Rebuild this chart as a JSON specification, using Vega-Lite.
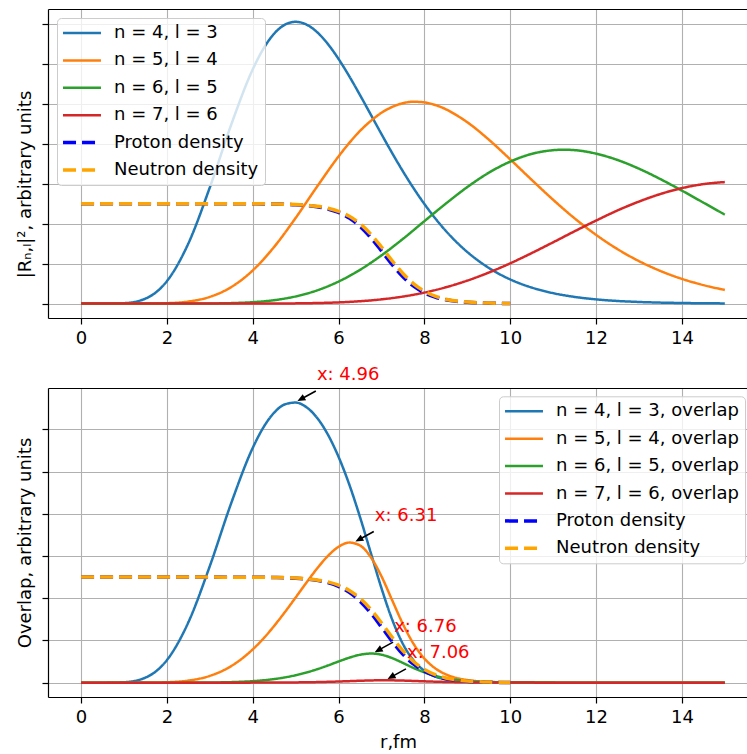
{
  "$schema": "https://vega.github.io/schema/vega-lite/v6.json",
  "background": "white",
  "padding": {"left": 16, "top": 9, "right": 0, "bottom": 0},
  "spacing": 19,
  "resolve": {
    "scale": {"color": "independent", "strokeDash": "independent", "strokeWidth": "independent", "y": "independent"},
    "legend": {"color": "independent", "strokeDash": "independent", "strokeWidth": "independent"}
  },
  "config": {
    "font": "DejaVu Sans",
    "view": {"stroke": null},
    "axis": {
      "labelFont": "DejaVu Sans", "labelFontSize": 18, "labelColor": "#000000",
      "titleFont": "DejaVu Sans", "titleFontSize": 18, "titleFontWeight": "normal", "titleColor": "#000000",
      "domainColor": "#000000", "domainWidth": 1.2, "tickColor": "#000000", "tickWidth": 1.2, "tickSize": 6,
      "labelPadding": 5, "titlePadding": 7, "gridColor": "#b0b0b0", "gridWidth": 1.1, "gridOpacity": 1,
      "labelFlush": false, "labelOverlap": false
    }
  },
  "datasets": {
    "top": [
      {"r":0,"n = 4, l = 3":0,"n = 5, l = 4":0,"n = 6, l = 5":0,"n = 7, l = 6":0,"Proton density":2.5,"Neutron density":2.5},
      {"r":0.5,"n = 4, l = 3":0.0001,"n = 5, l = 4":0,"n = 6, l = 5":0,"n = 7, l = 6":0,"Proton density":2.5,"Neutron density":2.5},
      {"r":1,"n = 4, l = 3":0.011,"n = 5, l = 4":0.00004,"n = 6, l = 5":0,"n = 7, l = 6":0,"Proton density":2.5,"Neutron density":2.5},
      {"r":1.5,"n = 4, l = 3":0.125,"n = 5, l = 4":0.0011,"n = 6, l = 5":0,"n = 7, l = 6":0,"Proton density":2.5,"Neutron density":2.5},
      {"r":2,"n = 4, l = 3":0.561,"n = 5, l = 4":0.0105,"n = 6, l = 5":0.0001,"n = 7, l = 6":0,"Proton density":2.5,"Neutron density":2.5},
      {"r":2.5,"n = 4, l = 3":1.504,"n = 5, l = 4":0.0516,"n = 6, l = 5":0.0006,"n = 7, l = 6":0,"Proton density":2.5,"Neutron density":2.5},
      {"r":3,"n = 4, l = 3":2.905,"n = 5, l = 4":0.168,"n = 6, l = 5":0.0033,"n = 7, l = 6":0.00003,"Proton density":2.5,"Neutron density":2.5},
      {"r":3.5,"n = 4, l = 3":4.48,"n = 5, l = 4":0.414,"n = 6, l = 5":0.0123,"n = 7, l = 6":0.0002,"Proton density":2.499,"Neutron density":2.499},
      {"r":4,"n = 4, l = 3":5.859,"n = 5, l = 4":0.83,"n = 6, l = 5":0.0359,"n = 7, l = 6":0.0007,"Proton density":2.497,"Neutron density":2.498},
      {"r":4.25,"n = 4, l = 3":6.378},
      {"r":4.5,"n = 4, l = 3":6.754,"n = 5, l = 4":1.42,"n = 6, l = 5":0.0865,"n = 7, l = 6":0.0022,"Proton density":2.491,"Neutron density":2.493},
      {"r":4.75,"n = 4, l = 3":6.978},
      {"r":5,"n = 4, l = 3":7.05,"n = 5, l = 4":2.143,"n = 6, l = 5":0.18,"n = 7, l = 6":0.006,"Proton density":2.474,"Neutron density":2.478},
      {"r":5.25,"n = 4, l = 3":6.982,"Proton density":2.455,"Neutron density":2.461},
      {"r":5.5,"n = 4, l = 3":6.791,"n = 5, l = 4":2.928,"n = 6, l = 5":0.331,"n = 7, l = 6":0.0143,"Proton density":2.423,"Neutron density":2.434},
      {"r":5.75,"n = 4, l = 3":6.496,"Proton density":2.368,"Neutron density":2.386},
      {"r":6,"n = 4, l = 3":6.12,"n = 5, l = 4":3.682,"n = 6, l = 5":0.552,"n = 7, l = 6":0.0306,"Proton density":2.279,"Neutron density":2.308},
      {"r":6.25,"n = 4, l = 3":5.687,"n = 5, l = 4":4.02,"Proton density":2.139,"Neutron density":2.184},
      {"r":6.5,"n = 4, l = 3":5.217,"n = 5, l = 4":4.321,"n = 6, l = 5":0.845,"n = 7, l = 6":0.0595,"Proton density":1.931,"Neutron density":1.997},
      {"r":6.75,"n = 4, l = 3":4.73,"n = 5, l = 4":4.569,"Proton density":1.652,"Neutron density":1.737},
      {"r":7,"n = 4, l = 3":4.241,"n = 5, l = 4":4.775,"n = 6, l = 5":1.207,"n = 7, l = 6":0.1063,"Proton density":1.319,"Neutron density":1.416},
      {"r":7.25,"n = 4, l = 3":3.764,"n = 5, l = 4":4.92,"Proton density":0.977,"Neutron density":1.071},
      {"r":7.5,"n = 4, l = 3":3.309,"n = 5, l = 4":5.014,"n = 6, l = 5":1.619,"n = 7, l = 6":0.1766,"Proton density":0.672,"Neutron density":0.752},
      {"r":7.75,"n = 4, l = 3":2.884,"n = 5, l = 4":5.05,"Proton density":0.436,"Neutron density":0.495},
      {"r":8,"n = 4, l = 3":2.492,"n = 5, l = 4":5.034,"n = 6, l = 5":2.063,"n = 7, l = 6":0.276,"Proton density":0.27,"Neutron density":0.31},
      {"r":8.25,"n = 5, l = 4":4.969,"Proton density":0.162,"Neutron density":0.188},
      {"r":8.5,"n = 4, l = 3":1.818,"n = 5, l = 4":4.862,"n = 6, l = 5":2.502,"n = 7, l = 6":0.409,"Proton density":0.0959,"Neutron density":0.111},
      {"r":8.75,"n = 5, l = 4":4.713,"Proton density":0.0559,"Neutron density":0.0653},
      {"r":9,"n = 4, l = 3":1.291,"n = 5, l = 4":4.537,"n = 6, l = 5":2.916,"n = 7, l = 6":0.576,"Proton density":0.0324,"Neutron density":0.0378},
      {"r":9.25,"Proton density":0.0187,"Neutron density":0.0218},
      {"r":9.5,"n = 4, l = 3":0.894,"n = 5, l = 4":4.103,"n = 6, l = 5":3.274,"n = 7, l = 6":0.777,"Proton density":0.0108,"Neutron density":0.0126},
      {"r":9.75,"Proton density":0.0062,"Neutron density":0.0072},
      {"r":10,"n = 4, l = 3":0.605,"n = 5, l = 4":3.608,"n = 6, l = 5":3.552,"n = 7, l = 6":1.008,"Proton density":0.0036,"Neutron density":0.0041},
      {"r":10.5,"n = 4, l = 3":0.402,"n = 5, l = 4":3.096,"n = 6, l = 5":3.745,"n = 7, l = 6":1.264},
      {"r":10.75,"n = 6, l = 5":3.803},
      {"r":11,"n = 4, l = 3":0.262,"n = 5, l = 4":2.597,"n = 6, l = 5":3.838,"n = 7, l = 6":1.534},
      {"r":11.25,"n = 6, l = 5":3.85},
      {"r":11.5,"n = 4, l = 3":0.168,"n = 5, l = 4":2.133,"n = 6, l = 5":3.839,"n = 7, l = 6":1.81},
      {"r":11.75,"n = 6, l = 5":3.806},
      {"r":12,"n = 4, l = 3":0.106,"n = 5, l = 4":1.72,"n = 6, l = 5":3.751,"n = 7, l = 6":2.077},
      {"r":12.5,"n = 4, l = 3":0.066,"n = 5, l = 4":1.363,"n = 6, l = 5":3.593,"n = 7, l = 6":2.331},
      {"r":13,"n = 4, l = 3":0.041,"n = 5, l = 4":1.063,"n = 6, l = 5":3.375,"n = 7, l = 6":2.553},
      {"r":13.5,"n = 4, l = 3":0.025,"n = 5, l = 4":0.817,"n = 6, l = 5":3.114,"n = 7, l = 6":2.742},
      {"r":14,"n = 4, l = 3":0.015,"n = 5, l = 4":0.619,"n = 6, l = 5":2.827,"n = 7, l = 6":2.889},
      {"r":14.5,"n = 4, l = 3":0.009,"n = 5, l = 4":0.463,"n = 6, l = 5":2.527,"n = 7, l = 6":2.989},
      {"r":15,"n = 4, l = 3":0.005,"n = 5, l = 4":0.342,"n = 6, l = 5":2.226,"n = 7, l = 6":3.041}
    ],
    "bottom": [
      {"r":0,"n = 4, l = 3, overlap":0,"n = 5, l = 4, overlap":0,"n = 6, l = 5, overlap":0,"n = 7, l = 6, overlap":0,"Proton density":2.5,"Neutron density":2.5},
      {"r":0.5,"n = 4, l = 3, overlap":0.0001,"n = 5, l = 4, overlap":0,"n = 6, l = 5, overlap":0,"n = 7, l = 6, overlap":0,"Proton density":2.5,"Neutron density":2.5},
      {"r":1,"n = 4, l = 3, overlap":0.0104,"n = 5, l = 4, overlap":0,"n = 6, l = 5, overlap":0,"n = 7, l = 6, overlap":0,"Proton density":2.5,"Neutron density":2.5},
      {"r":1.5,"n = 4, l = 3, overlap":0.119,"n = 5, l = 4, overlap":0.001,"n = 6, l = 5, overlap":0,"n = 7, l = 6, overlap":0,"Proton density":2.5,"Neutron density":2.5},
      {"r":2,"n = 4, l = 3, overlap":0.533,"n = 5, l = 4, overlap":0.01,"n = 6, l = 5, overlap":0.0001,"n = 7, l = 6, overlap":0,"Proton density":2.5,"Neutron density":2.5},
      {"r":2.5,"n = 4, l = 3, overlap":1.429,"n = 5, l = 4, overlap":0.049,"n = 6, l = 5, overlap":0.0006,"n = 7, l = 6, overlap":0,"Proton density":2.5,"Neutron density":2.5},
      {"r":3,"n = 4, l = 3, overlap":2.76,"n = 5, l = 4, overlap":0.16,"n = 6, l = 5, overlap":0.0032,"n = 7, l = 6, overlap":0,"Proton density":2.5,"Neutron density":2.5},
      {"r":3.5,"n = 4, l = 3, overlap":4.256,"n = 5, l = 4, overlap":0.393,"n = 6, l = 5, overlap":0.0122,"n = 7, l = 6, overlap":0.0002,"Proton density":2.499,"Neutron density":2.499},
      {"r":4,"n = 4, l = 3, overlap":5.56,"n = 5, l = 4, overlap":0.788,"n = 6, l = 5, overlap":0.0355,"n = 7, l = 6, overlap":0.0006,"Proton density":2.497,"Neutron density":2.498},
      {"r":4.25,"n = 4, l = 3, overlap":6.048,"n = 5, l = 4, overlap":1.046,"n = 6, l = 5, overlap":0.0562,"n = 7, l = 6, overlap":0.0011},
      {"r":4.5,"n = 4, l = 3, overlap":6.396,"n = 5, l = 4, overlap":1.345,"n = 6, l = 5, overlap":0.0852,"n = 7, l = 6, overlap":0.0021,"Proton density":2.491,"Neutron density":2.493},
      {"r":4.75,"n = 4, l = 3, overlap":6.593,"n = 5, l = 4, overlap":1.672,"n = 6, l = 5, overlap":0.1246,"n = 7, l = 6, overlap":0.0037},
      {"r":5,"n = 4, l = 3, overlap":6.635,"n = 5, l = 4, overlap":2.017,"n = 6, l = 5, overlap":0.1762,"n = 7, l = 6, overlap":0.0056,"Proton density":2.474,"Neutron density":2.478},
      {"r":5.25,"n = 4, l = 3, overlap":6.526,"n = 5, l = 4, overlap":2.368,"n = 6, l = 5, overlap":0.2403,"n = 7, l = 6, overlap":0.0088,"Proton density":2.455,"Neutron density":2.461},
      {"r":5.5,"n = 4, l = 3, overlap":6.272,"n = 5, l = 4, overlap":2.704,"n = 6, l = 5, overlap":0.3179,"n = 7, l = 6, overlap":0.0132,"Proton density":2.423,"Neutron density":2.434},
      {"r":5.75,"n = 4, l = 3, overlap":5.879,"n = 5, l = 4, overlap":3.0,"n = 6, l = 5, overlap":0.4063,"n = 7, l = 6, overlap":0.0192,"Proton density":2.368,"Neutron density":2.386},
      {"r":6,"n = 4, l = 3, overlap":5.349,"n = 5, l = 4, overlap":3.218,"n = 6, l = 5, overlap":0.5018,"n = 7, l = 6, overlap":0.0267,"Proton density":2.279,"Neutron density":2.308},
      {"r":6.25,"n = 4, l = 3, overlap":4.693,"n = 5, l = 4, overlap":3.318,"n = 6, l = 5, overlap":0.5911,"n = 7, l = 6, overlap":0.0356,"Proton density":2.139,"Neutron density":2.184},
      {"r":6.5,"n = 4, l = 3, overlap":3.922,"n = 5, l = 4, overlap":3.249,"n = 6, l = 5, overlap":0.6607,"n = 7, l = 6, overlap":0.0447,"Proton density":1.931,"Neutron density":1.997},
      {"r":6.75,"n = 4, l = 3, overlap":3.079,"n = 5, l = 4, overlap":2.974,"n = 6, l = 5, overlap":0.6892,"n = 7, l = 6, overlap":0.0522,"Proton density":1.652,"Neutron density":1.737},
      {"r":7,"n = 4, l = 3, overlap":2.237,"n = 5, l = 4, overlap":2.519,"n = 6, l = 5, overlap":0.6622,"n = 7, l = 6, overlap":0.0561,"Proton density":1.319,"Neutron density":1.416},
      {"r":7.25,"n = 4, l = 3, overlap":1.493,"n = 5, l = 4, overlap":1.951,"n = 6, l = 5, overlap":0.5806,"n = 7, l = 6, overlap":0.0548,"Proton density":0.977,"Neutron density":1.071},
      {"r":7.5,"n = 4, l = 3, overlap":0.916,"n = 5, l = 4, overlap":1.388,"n = 6, l = 5, overlap":0.4661,"n = 7, l = 6, overlap":0.0489,"Proton density":0.672,"Neutron density":0.752},
      {"r":7.75,"n = 4, l = 3, overlap":0.523,"n = 5, l = 4, overlap":0.915,"n = 6, l = 5, overlap":0.3466,"n = 7, l = 6, overlap":0.0402,"Proton density":0.436,"Neutron density":0.495},
      {"r":8,"n = 4, l = 3, overlap":0.282,"n = 5, l = 4, overlap":0.57,"n = 6, l = 5, overlap":0.2429,"n = 7, l = 6, overlap":0.0313,"Proton density":0.27,"Neutron density":0.31},
      {"r":8.25,"n = 4, l = 3, overlap":0.146,"n = 5, l = 4, overlap":0.34,"n = 6, l = 5, overlap":0.1624,"n = 7, l = 6, overlap":0.0231,"Proton density":0.162,"Neutron density":0.188},
      {"r":8.5,"n = 4, l = 3, overlap":0.0736,"n = 5, l = 4, overlap":0.197,"n = 6, l = 5, overlap":0.1054,"n = 7, l = 6, overlap":0.0166,"Proton density":0.0959,"Neutron density":0.111},
      {"r":8.75,"n = 4, l = 3, overlap":0.0364,"n = 5, l = 4, overlap":0.111,"n = 6, l = 5, overlap":0.0668,"n = 7, l = 6, overlap":0.0115,"Proton density":0.0559,"Neutron density":0.0653},
      {"r":9,"n = 4, l = 3, overlap":0.0178,"n = 5, l = 4, overlap":0.0625,"n = 6, l = 5, overlap":0.0418,"n = 7, l = 6, overlap":0.0079,"Proton density":0.0324,"Neutron density":0.0378},
      {"r":9.25,"Proton density":0.0187,"Neutron density":0.0218},
      {"r":9.5,"n = 4, l = 3, overlap":0.0041,"n = 5, l = 4, overlap":0.0187,"n = 6, l = 5, overlap":0.0156,"n = 7, l = 6, overlap":0.0036,"Proton density":0.0108,"Neutron density":0.0126},
      {"r":9.75,"Proton density":0.0062,"Neutron density":0.0072},
      {"r":10,"n = 4, l = 3, overlap":0.0009,"n = 5, l = 4, overlap":0.0054,"n = 6, l = 5, overlap":0.0056,"n = 7, l = 6, overlap":0.0015,"Proton density":0.0036,"Neutron density":0.0041},
      {"r":10.5,"n = 4, l = 3, overlap":0.0002,"n = 5, l = 4, overlap":0.0015,"n = 6, l = 5, overlap":0.002,"n = 7, l = 6, overlap":0.0006},
      {"r":11,"n = 4, l = 3, overlap":0,"n = 5, l = 4, overlap":0.0004,"n = 6, l = 5, overlap":0.0006,"n = 7, l = 6, overlap":0.0002},
      {"r":11.5,"n = 4, l = 3, overlap":0,"n = 5, l = 4, overlap":0.0001,"n = 6, l = 5, overlap":0.0002,"n = 7, l = 6, overlap":0.0001},
      {"r":12,"n = 4, l = 3, overlap":0,"n = 5, l = 4, overlap":0,"n = 6, l = 5, overlap":0,"n = 7, l = 6, overlap":0},
      {"r":13,"n = 4, l = 3, overlap":0,"n = 5, l = 4, overlap":0,"n = 6, l = 5, overlap":0,"n = 7, l = 6, overlap":0},
      {"r":14,"n = 4, l = 3, overlap":0,"n = 5, l = 4, overlap":0,"n = 6, l = 5, overlap":0,"n = 7, l = 6, overlap":0},
      {"r":15,"n = 4, l = 3, overlap":0,"n = 5, l = 4, overlap":0,"n = 6, l = 5, overlap":0,"n = 7, l = 6, overlap":0}
    ],
    "peaks": [
      {"r":4.96,"v":6.64,"label":"x: 4.96"},
      {"r":6.31,"v":3.31,"label":"x: 6.31"},
      {"r":6.76,"v":0.689,"label":"x: 6.76"},
      {"r":7.06,"v":0.056,"label":"x: 7.06"}
    ]
  },
  "vconcat": [
    {
      "width": 700,
      "height": 309,
      "resolve": {"axis": {"x": "independent", "y": "independent"}},
      "layer": [
        {
          "data": {"name": "top"},
          "transform": [
            {"fold": ["n = 4, l = 3","n = 5, l = 4","n = 6, l = 5","n = 7, l = 6","Proton density","Neutron density"], "as": ["s","v"]},
            {"filter": "isValid(datum.v)"}
          ],
          "mark": {"type": "line", "interpolate": "monotone", "clip": true},
          "encoding": {
            "x": {"field": "r", "type": "quantitative", "scale": {"domain": [-0.77, 15.54], "nice": false, "zero": false},
                  "axis": {"orient": "bottom", "values": [0,2,4,6,8,10,12,14], "title": null, "grid": true}},
            "y": {"field": "v", "type": "quantitative", "scale": {"domain": [-0.36, 7.37], "nice": false, "zero": false},
                  "axis": {"values": [0,1,2,3,4,5,6,7], "labels": false, "grid": true, "title": "|Rₙ,ₗ|², arbitrary units", "titleY": 175}},
            "color": {"field": "s", "type": "nominal",
                      "scale": {"domain": ["n = 4, l = 3","n = 5, l = 4","n = 6, l = 5","n = 7, l = 6","Proton density","Neutron density"],
                                "range": ["#1f77b4","#ff7f0e","#2ca02c","#d62728","#0000ff","#ffa500"]},
                      "legend": {"title": null, "orient": "top-left", "offset": 9, "symbolType": "M-3,0H3", "symbolSize": 160, "symbolOffset": 10, "labelOffset": 23,
                                 "labelFont": "DejaVu Sans", "labelFontSize": 18, "labelColor": "#000000", "labelLimit": 320, "rowPadding": 9.4, "padding": 6,
                                 "fillColor": "rgba(255,255,255,0.8)", "strokeColor": "#cccccc", "cornerRadius": 4}},
            "strokeDash": {"field": "s", "type": "nominal",
                           "scale": {"domain": ["n = 4, l = 3","n = 5, l = 4","n = 6, l = 5","n = 7, l = 6","Proton density","Neutron density"],
                                     "range": [[1,0],[1,0],[1,0],[1,0],[13,6],[13,6]]},
                           "legend": {"title": null, "orient": "top-left", "offset": 9, "symbolType": "M-3,0H3", "symbolSize": 160, "symbolOffset": 10, "labelOffset": 23,
                                      "labelFont": "DejaVu Sans", "labelFontSize": 18, "labelColor": "#000000", "labelLimit": 320, "rowPadding": 9.4, "padding": 6,
                                      "fillColor": "rgba(255,255,255,0.8)", "strokeColor": "#cccccc", "cornerRadius": 4}},
            "strokeWidth": {"field": "s", "type": "nominal",
                            "scale": {"type": "ordinal", "domain": ["n = 4, l = 3","n = 5, l = 4","n = 6, l = 5","n = 7, l = 6","Proton density","Neutron density"],
                                      "range": [2.5,2.5,2.5,2.5,3.5,3.5]},
                            "legend": {"title": null, "orient": "top-left", "offset": 9, "symbolType": "M-3,0H3", "symbolSize": 160, "symbolOffset": 10, "labelOffset": 23,
                                       "labelFont": "DejaVu Sans", "labelFontSize": 18, "labelColor": "#000000", "labelLimit": 320, "rowPadding": 9.4, "padding": 6,
                                       "fillColor": "rgba(255,255,255,0.8)", "strokeColor": "#cccccc", "cornerRadius": 4}}
          }
        },
        {
          "data": {"values": [{"r": 0, "v": 0}]},
          "mark": {"type": "point", "opacity": 0},
          "encoding": {
            "x": {"field": "r", "type": "quantitative", "scale": {"domain": [-0.77, 15.54], "nice": false, "zero": false},
                  "axis": {"orient": "top", "labels": false, "ticks": false, "grid": false, "title": null, "domain": true}},
            "y": {"field": "v", "type": "quantitative", "scale": {"domain": [-0.36, 7.37], "nice": false, "zero": false}, "axis": null}
          }
        }
      ]
    },
    {
      "width": 700,
      "height": 309,
      "resolve": {"axis": {"x": "independent", "y": "independent"}},
      "layer": [
        {
          "data": {"name": "bottom"},
          "transform": [
            {"fold": ["n = 4, l = 3, overlap","n = 5, l = 4, overlap","n = 6, l = 5, overlap","n = 7, l = 6, overlap","Proton density","Neutron density"], "as": ["s","v"]},
            {"filter": "isValid(datum.v)"}
          ],
          "mark": {"type": "line", "interpolate": "monotone", "clip": true},
          "encoding": {
            "x": {"field": "r", "type": "quantitative", "scale": {"domain": [-0.77, 15.54], "nice": false, "zero": false},
                  "axis": {"orient": "bottom", "values": [0,2,4,6,8,10,12,14], "title": "r,fm", "grid": true}},
            "y": {"field": "v", "type": "quantitative", "scale": {"domain": [-0.34, 6.98], "nice": false, "zero": false},
                  "axis": {"values": [0,1,2,3,4,5,6], "labels": false, "grid": true, "title": "Overlap, arbitrary units"}},
            "color": {"field": "s", "type": "nominal",
                      "scale": {"domain": ["n = 4, l = 3, overlap","n = 5, l = 4, overlap","n = 6, l = 5, overlap","n = 7, l = 6, overlap","Proton density","Neutron density"],
                                "range": ["#1f77b4","#ff7f0e","#2ca02c","#d62728","#0000ff","#ffa500"]},
                      "legend": {"title": null, "orient": "none", "legendX": 451, "legendY": 8.3, "symbolType": "M-3,0H3", "symbolSize": 160, "symbolOffset": 10, "labelOffset": 23,
                                 "labelFont": "DejaVu Sans", "labelFontSize": 18, "labelColor": "#000000", "labelLimit": 320, "rowPadding": 9.4, "padding": 6,
                                 "fillColor": "rgba(255,255,255,0.8)", "strokeColor": "#cccccc", "cornerRadius": 4}},
            "strokeDash": {"field": "s", "type": "nominal",
                           "scale": {"domain": ["n = 4, l = 3, overlap","n = 5, l = 4, overlap","n = 6, l = 5, overlap","n = 7, l = 6, overlap","Proton density","Neutron density"],
                                     "range": [[1,0],[1,0],[1,0],[1,0],[13,6],[13,6]]},
                           "legend": {"title": null, "orient": "none", "legendX": 451, "legendY": 8.3, "symbolType": "M-3,0H3", "symbolSize": 160, "symbolOffset": 10, "labelOffset": 23,
                                      "labelFont": "DejaVu Sans", "labelFontSize": 18, "labelColor": "#000000", "labelLimit": 320, "rowPadding": 9.4, "padding": 6,
                                      "fillColor": "rgba(255,255,255,0.8)", "strokeColor": "#cccccc", "cornerRadius": 4}},
            "strokeWidth": {"field": "s", "type": "nominal",
                            "scale": {"type": "ordinal", "domain": ["n = 4, l = 3, overlap","n = 5, l = 4, overlap","n = 6, l = 5, overlap","n = 7, l = 6, overlap","Proton density","Neutron density"],
                                      "range": [2.5,2.5,2.5,2.5,3.5,3.5]},
                            "legend": {"title": null, "orient": "none", "legendX": 451, "legendY": 8.3, "symbolType": "M-3,0H3", "symbolSize": 160, "symbolOffset": 10, "labelOffset": 23,
                                       "labelFont": "DejaVu Sans", "labelFontSize": 18, "labelColor": "#000000", "labelLimit": 320, "rowPadding": 9.4, "padding": 6,
                                       "fillColor": "rgba(255,255,255,0.8)", "strokeColor": "#cccccc", "cornerRadius": 4}}
          }
        },
        {
          "data": {"values": [{"r": 0, "v": 0}]},
          "mark": {"type": "point", "opacity": 0},
          "encoding": {
            "x": {"field": "r", "type": "quantitative", "scale": {"domain": [-0.77, 15.54], "nice": false, "zero": false},
                  "axis": {"orient": "top", "labels": false, "ticks": false, "grid": false, "title": null, "domain": true}},
            "y": {"field": "v", "type": "quantitative", "scale": {"domain": [-0.34, 6.98], "nice": false, "zero": false}, "axis": null}
          }
        },
        {
          "data": {"name": "peaks"},
          "mark": {"type": "point", "shape": "M0.14,-0.052L0.488,-0.084L0.436,-0.178L0.892,-0.428L0.86,-0.484L0.405,-0.234L0.353,-0.329Z",
                   "size": 2500, "filled": true, "color": "#000000", "opacity": 1, "strokeWidth": 0},
          "encoding": {
            "x": {"field": "r", "type": "quantitative", "axis": null},
            "y": {"field": "v", "type": "quantitative", "axis": null}
          }
        },
        {
          "data": {"name": "peaks"},
          "mark": {"type": "text", "align": "left", "baseline": "middle", "dx": 23, "dy": -27, "fontSize": 18, "font": "DejaVu Sans", "color": "#ff0000"},
          "encoding": {
            "x": {"field": "r", "type": "quantitative", "axis": null},
            "y": {"field": "v", "type": "quantitative", "axis": null},
            "text": {"field": "label"}
          }
        }
      ]
    }
  ]
}
